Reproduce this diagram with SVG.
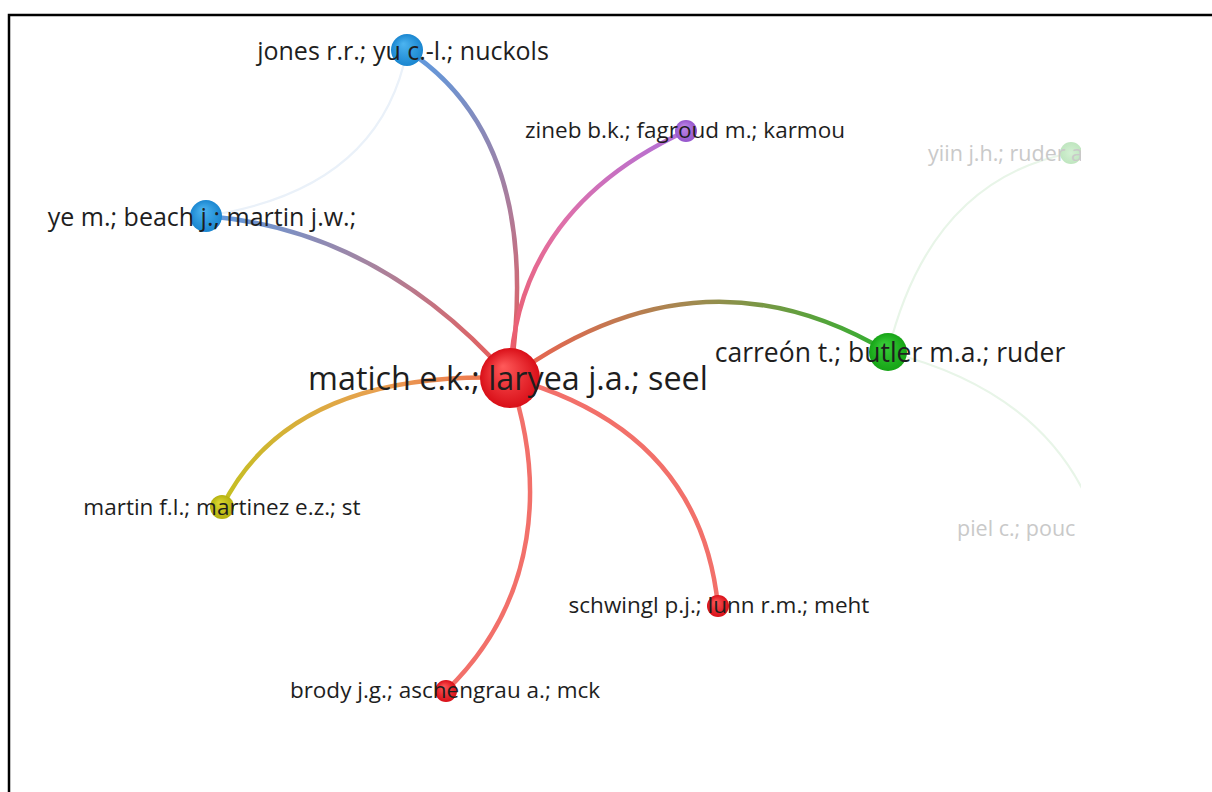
<svg xmlns="http://www.w3.org/2000/svg" width="1212" height="792" viewBox="0 0 1212 792">
  <defs>
    <style>
      .lbl { font-family: "Open Sans", "Noto Sans", "Liberation Sans", sans-serif; fill: #1e1e1e; }
      .faded { fill: #c9c9c9; }
      .edge { fill: none; stroke-linecap: round; stroke-width: 4.5; }
      .faint { fill: none; stroke-width: 2.2; }
    </style>
    <clipPath id="view"><rect x="8" y="15" width="1073" height="777"/></clipPath>
    <radialGradient id="gRed" cx="0.5" cy="0.5" r="0.5" fx="0.38" fy="0.3">
      <stop offset="0" stop-color="#ff5a5a"/><stop offset="1" stop-color="#d90f18"/>
    </radialGradient>
    <radialGradient id="gBlue" cx="0.5" cy="0.5" r="0.5" fx="0.38" fy="0.3">
      <stop offset="0" stop-color="#4cb4f0"/><stop offset="1" stop-color="#1a86d0"/>
    </radialGradient>
    <radialGradient id="gGreen" cx="0.5" cy="0.5" r="0.5" fx="0.38" fy="0.3">
      <stop offset="0" stop-color="#3ad03a"/><stop offset="1" stop-color="#16a316"/>
    </radialGradient>
    <radialGradient id="gPurple" cx="0.5" cy="0.5" r="0.5" fx="0.38" fy="0.3">
      <stop offset="0" stop-color="#c08ae8"/><stop offset="1" stop-color="#9656cc"/>
    </radialGradient>
    <radialGradient id="gYellow" cx="0.5" cy="0.5" r="0.5" fx="0.38" fy="0.3">
      <stop offset="0" stop-color="#dcd830"/><stop offset="1" stop-color="#b4b010"/>
    </radialGradient>
    <radialGradient id="gPale" cx="0.5" cy="0.5" r="0.5">
      <stop offset="0" stop-color="#d4f0d4"/><stop offset="1" stop-color="#bfe6bf"/>
    </radialGradient>
    <!-- edge colour blends, from the hub outward -->
    <linearGradient id="eJones" gradientUnits="userSpaceOnUse" x1="510" y1="378" x2="407" y2="50">
      <stop offset="0" stop-color="#ee5a55"/><stop offset="0.45" stop-color="#b07a96"/><stop offset="1" stop-color="#5c9ae0"/>
    </linearGradient>
    <linearGradient id="eYe" gradientUnits="userSpaceOnUse" x1="510" y1="378" x2="206" y2="216">
      <stop offset="0" stop-color="#ee5a55"/><stop offset="0.5" stop-color="#a7839e"/><stop offset="1" stop-color="#5c9ae0"/>
    </linearGradient>
    <linearGradient id="eZineb" gradientUnits="userSpaceOnUse" x1="510" y1="378" x2="686" y2="131">
      <stop offset="0" stop-color="#ee5a60"/><stop offset="0.5" stop-color="#e070a8"/><stop offset="1" stop-color="#b070d8"/>
    </linearGradient>
    <linearGradient id="eCarr" gradientUnits="userSpaceOnUse" x1="510" y1="378" x2="888" y2="352">
      <stop offset="0" stop-color="#f06050"/><stop offset="0.5" stop-color="#a08a50"/><stop offset="1" stop-color="#30b030"/>
    </linearGradient>
    <linearGradient id="eMartin" gradientUnits="userSpaceOnUse" x1="510" y1="378" x2="222" y2="507">
      <stop offset="0" stop-color="#f07050"/><stop offset="0.4" stop-color="#e8a050"/><stop offset="1" stop-color="#c4c020"/>
    </linearGradient>
  </defs>

  <rect width="1212" height="792" fill="#ffffff"/>
  <!-- page frame -->
  <path d="M9,792 V15 H1212" fill="none" stroke="#000" stroke-width="2.5"/>

  <g clip-path="url(#view)">
    <g id="connectors">
      <path class="faint" d="M407,50 Q380,190 206,216" stroke="#eaf1f9"/>
      <path class="faint" d="M888,352 Q930,180 1071,153" stroke="#e8f5e8"/>
      <path class="faint" d="M888,352 Q1040,390 1090,505" stroke="#e8f5e8"/>
      <path class="edge" d="M510,378 Q545,140 407,50" stroke="url(#eJones)"/>
      <path class="edge" d="M510,378 Q380,230 206,216" stroke="url(#eYe)"/>
      <path class="edge" d="M510,378 Q515,210 686,131" stroke="url(#eZineb)"/>
      <path class="edge" d="M510,378 Q700,240 888,352" stroke="url(#eCarr)"/>
      <path class="edge" d="M510,378 Q290,370 222,507" stroke="url(#eMartin)"/>
      <path class="edge" d="M510,378 Q700,430 718,606" stroke="#f2706a"/>
      <path class="edge" d="M510,378 C545,480 540,600 446,691" stroke="#f2706a"/>
    </g>

    <g id="node-yiin">
      <circle cx="1071" cy="153" r="11" fill="url(#gPale)"/>
      <text class="lbl faded" x="928" y="161" font-size="21.5">yiin j.h.; ruder a</text>
    </g>
    <g id="node-piel">
      <text class="lbl faded" x="957" y="536" font-size="21.5">piel c.; pouc</text>
    </g>
    <g id="node-jones">
      <circle cx="407" cy="50" r="16" fill="url(#gBlue)"/>
      <text class="lbl" x="403" y="60" font-size="25" text-anchor="middle">jones r.r.; yu c.-l.; nuckols</text>
    </g>
    <g id="node-zineb">
      <circle cx="686" cy="131" r="11" fill="url(#gPurple)"/>
      <text class="lbl" x="685" y="138" font-size="22.5" text-anchor="middle">zineb b.k.; fagroud m.; karmou</text>
    </g>
    <g id="node-ye">
      <circle cx="206" cy="216" r="16" fill="url(#gBlue)"/>
      <text class="lbl" x="202" y="226" font-size="25" text-anchor="middle">ye m.; beach j.; martin j.w.;</text>
    </g>
    <g id="node-carreon">
      <circle cx="888" cy="352" r="19" fill="url(#gGreen)"/>
      <text class="lbl" x="890" y="362" font-size="26.5" text-anchor="middle">carreón t.; butler m.a.; ruder</text>
    </g>
    <g id="node-martin">
      <circle cx="222" cy="507" r="12" fill="url(#gYellow)"/>
      <text class="lbl" x="222" y="515" font-size="22.5" text-anchor="middle">martin f.l.; martinez e.z.; st</text>
    </g>
    <g id="node-schwingl">
      <circle cx="718" cy="606" r="11" fill="url(#gRed)"/>
      <text class="lbl" x="719" y="613" font-size="22.5" text-anchor="middle">schwingl p.j.; lunn r.m.; meht</text>
    </g>
    <g id="node-brody">
      <circle cx="446" cy="691" r="11" fill="url(#gRed)"/>
      <text class="lbl" x="445" y="698" font-size="22.5" text-anchor="middle">brody j.g.; aschengrau a.; mck</text>
    </g>
    <g id="node-matich">
      <circle cx="510" cy="378" r="30" fill="url(#gRed)"/>
      <text class="lbl" x="508" y="390" font-size="32.3" text-anchor="middle">matich e.k.; laryea j.a.; seel</text>
    </g>
  </g>
</svg>
